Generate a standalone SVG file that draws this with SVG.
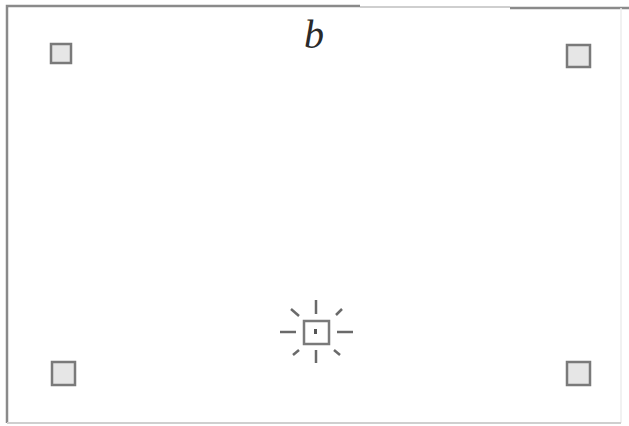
<svg xmlns="http://www.w3.org/2000/svg" width="629" height="426" viewBox="0 0 629 426">
<style>
.frame{fill:none;stroke:#8a8a8a;stroke-width:2.5}
.frame-light{fill:none;stroke:#cfcfcf;stroke-width:2}
.frame-faint{fill:none;stroke:#ececec;stroke-width:1.5}
.sq{fill:#e6e6e6;stroke:#7a7a7a;stroke-width:2.5}
.ray{stroke:#6a6a6a;stroke-width:2.5;stroke-linecap:butt}
.lbl{font-family:"Liberation Serif",serif;font-style:italic;font-size:40px;fill:#2a2a2a}
</style>
<rect width="629" height="426" fill="#fff"/>
<g id="frame">
<path class="frame" d="M7,423 V6 H360"/>
<path class="frame-light" d="M360,7 H510"/>
<path class="frame" d="M510,8 H629"/>
<path class="frame-faint" d="M621,8 V423"/>
<path class="frame-light" d="M7,423 H621"/>
</g>
<text class="lbl" x="314" y="48" text-anchor="middle">b</text>
<g id="node-tl"><rect class="sq" x="51" y="44" width="20" height="19"/></g>
<g id="node-tr"><rect class="sq" x="567" y="45" width="23" height="22"/></g>
<g id="node-bl"><rect class="sq" x="52" y="362" width="23" height="23"/></g>
<g id="node-br"><rect class="sq" x="567" y="362" width="23" height="23"/></g>
<g id="node-center">
<rect class="sq" x="304" y="321" width="25" height="23" style="fill:#fff"/>
<rect x="314" y="329" width="3" height="5" fill="#555"/>
</g>
<g id="connectors">
<line class="ray" x1="316" y1="300" x2="316" y2="314"/>
<line class="ray" x1="316" y1="350" x2="316" y2="363"/>
<line class="ray" x1="280" y1="332" x2="296" y2="332"/>
<line class="ray" x1="337" y1="332" x2="353" y2="332"/>
<line class="ray" x1="291" y1="309" x2="299" y2="316"/>
<line class="ray" x1="342" y1="309" x2="336" y2="315"/>
<line class="ray" x1="293" y1="355" x2="299" y2="350"/>
<line class="ray" x1="334" y1="350" x2="340" y2="355"/>
</g>
</svg>
